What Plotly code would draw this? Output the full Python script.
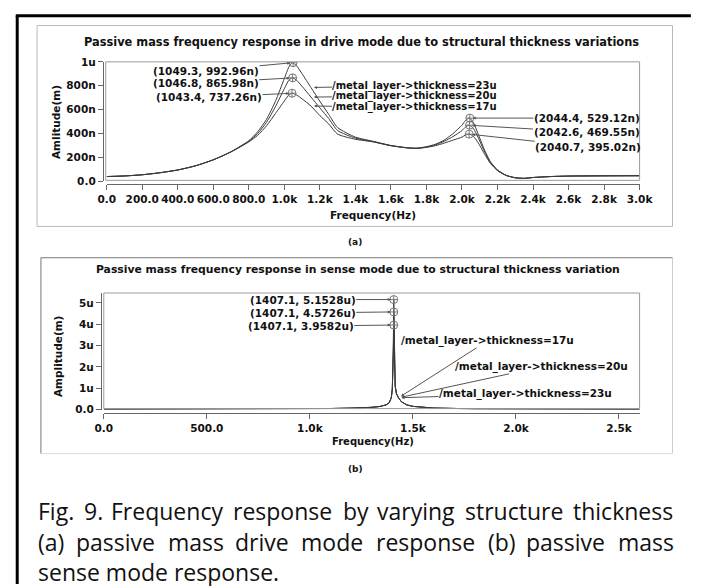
import plotly.graph_objects as go

W, H = 701, 586
def X(p): return p / W
def Y(p): return 1 - p / H

# ---------------- data ----------------
thickness = ["23u", "20u", "17u"]

drive_freq = [0, 100, 200, 300, 400, 500, 600, 700, 800, 850, 900, 950, 1000, 1025, 1045,
              1070, 1100, 1150, 1200, 1250, 1300, 1400, 1500, 1600, 1700, 1750, 1800, 1850,
              1900, 1950, 2000, 2020, 2042, 2065, 2090, 2125, 2160, 2200, 2250, 2300, 2350,
              2400, 2500, 2600, 2800, 3000]
# amplitudes in nm
drive_23 = [40, 45, 55, 72, 95, 130, 180, 248, 340, 415, 520, 670, 860, 955, 993,
            965, 900, 785, 670, 560, 450, 370, 335, 300, 280, 278, 290, 310,
            345, 400, 470, 510, 529, 490, 400, 270, 165, 95, 50, 30, 25,
            32, 40, 44, 46, 47]
drive_20 = [40, 45, 55, 72, 95, 130, 180, 247, 335, 400, 495, 625, 775, 845, 866,
            845, 795, 705, 615, 525, 425, 362, 332, 299, 279, 277, 287, 305,
            335, 375, 425, 455, 470, 440, 370, 255, 158, 92, 49, 30, 25,
            32, 40, 44, 46, 47]
drive_17 = [40, 45, 55, 72, 95, 130, 180, 246, 330, 385, 465, 568, 672, 722, 737,
            722, 690, 630, 550, 480, 395, 352, 330, 298, 278, 276, 284, 298,
            320, 345, 370, 388, 395, 375, 325, 235, 150, 90, 48, 30, 25,
            32, 40, 44, 46, 47]
drive_peak1_f = [1049.3, 1046.8, 1043.4]
drive_peak1_a = [992.96, 865.98, 737.26]
drive_peak2_f = [2044.4, 2042.6, 2040.7]
drive_peak2_a = [529.12, 469.55, 395.02]
drive_xticks = [0, 200, 400, 600, 800, 1000, 1200, 1400, 1600, 1800, 2000, 2200, 2400, 2600, 2800, 3000]
drive_xlabels = ["0.0", "200.0", "400.0", "600.0", "800.0", "1.0k", "1.2k", "1.4k", "1.6k",
                 "1.8k", "2.0k", "2.2k", "2.4k", "2.6k", "2.8k", "3.0k"]
drive_yticks = [0, 200, 400, 600, 800, 1000]
drive_ylabels = ["0.0", "200n", "400n", "600n", "800n", "1u"]

sense_freq = [0, 200, 400, 600, 800, 1000, 1100, 1200, 1250, 1300, 1340, 1370, 1385, 1395,
              1400, 1403, 1405, 1407.1, 1409, 1411, 1414, 1420, 1430, 1445, 1470, 1500,
              1550, 1600, 1800, 2000, 2300, 2600]
# amplitudes in um
sense_23 = [0.012, 0.013, 0.016, 0.020, 0.027, 0.040, 0.050, 0.068, 0.082, 0.105, 0.145, 0.22, 0.32, 0.55,
            0.95, 1.75, 3.0, 5.1528, 3.1, 1.8, 1.1, 0.75, 0.55, 0.36, 0.22, 0.15,
            0.095, 0.07, 0.035, 0.022, 0.013, 0.009]
sense_20 = [0.012, 0.013, 0.016, 0.020, 0.027, 0.040, 0.050, 0.068, 0.082, 0.105, 0.145, 0.22, 0.32, 0.55,
            0.95, 1.65, 2.8, 4.5726, 2.9, 1.75, 1.1, 0.75, 0.55, 0.36, 0.22, 0.15,
            0.095, 0.07, 0.035, 0.022, 0.013, 0.009]
sense_17 = [0.012, 0.013, 0.016, 0.020, 0.027, 0.040, 0.050, 0.068, 0.082, 0.105, 0.145, 0.22, 0.32, 0.55,
            0.95, 1.6, 2.6, 3.9582, 2.7, 1.7, 1.1, 0.75, 0.55, 0.36, 0.22, 0.15,
            0.095, 0.07, 0.035, 0.022, 0.013, 0.009]
sense_peak_f = [1407.1, 1407.1, 1407.1]
sense_peak_a = [5.1528, 4.5726, 3.9582]
sense_xticks = [0, 500, 1000, 1500, 2000, 2500]
sense_xlabels = ["0.0", "500.0", "1.0k", "1.5k", "2.0k", "2.5k"]
sense_yticks = [0, 1, 2, 3, 4, 5]
sense_ylabels = ["0.0", "1u", "2u", "3u", "4u", "5u"]

caption_line1 = ["Fig.", "9.", "Frequency", "response", "by", "varying", "structure", "thickness"]
caption_line2 = ["(a)", "passive", "mass", "drive", "mode", "response", "(b)", "passive", "mass"]
caption_line3 = "sense mode response."

# ---------------- style ----------------
CF = "DejaVu Sans"
def bold(s, c="#111"):
    return dict(family=CF, size=s, color=c, weight="bold")
line_col = "#3a3a3a"
ax_col = "#666666"

fig = go.Figure()

for vals in (drive_23, drive_20, drive_17):
    fig.add_trace(go.Scatter(x=drive_freq, y=vals, mode="lines", xaxis="x", yaxis="y",
                             line=dict(color=line_col, width=1, shape="spline", smoothing=0.6),
                             hoverinfo="skip"))
fig.add_trace(go.Scatter(x=drive_peak1_f + drive_peak2_f, y=drive_peak1_a + drive_peak2_a,
                         mode="markers", xaxis="x", yaxis="y",
                         marker=dict(symbol="circle-cross-open", size=8, color="#777777",
                                     line=dict(width=1)), hoverinfo="skip"))
for vals in (sense_23, sense_20, sense_17):
    fig.add_trace(go.Scatter(x=sense_freq, y=vals, mode="lines", xaxis="x2", yaxis="y2",
                             line=dict(color=line_col, width=1), hoverinfo="skip"))
fig.add_trace(go.Scatter(x=sense_peak_f, y=sense_peak_a, mode="markers", xaxis="x2", yaxis="y2",
                         marker=dict(symbol="circle-cross-open", size=8, color="#777777",
                                     line=dict(width=1)), hoverinfo="skip"))

axcommon = dict(showgrid=False, zeroline=False, showline=True, linecolor=ax_col, linewidth=1,
                ticks="outside", ticklen=5, tickcolor=ax_col, tickwidth=1,
                tickfont=bold(10.5), fixedrange=True)

fig.update_layout(
    width=W, height=H, margin=dict(l=0, r=0, t=0, b=0),
    paper_bgcolor="white", plot_bgcolor="rgba(0,0,0,0)", showlegend=False,
    xaxis=dict(domain=[X(101), X(652)], range=[0, 3000], anchor="free", position=Y(182),
               tickmode="array", tickvals=drive_xticks, ticktext=drive_xlabels, **axcommon),
    yaxis=dict(domain=[Y(179), Y(57)], range=[0, 1000], anchor="free", position=X(97),
               tickmode="array", tickvals=drive_yticks, ticktext=drive_ylabels, **axcommon),
    xaxis2=dict(domain=[X(98), X(652)], range=[0, 2600], anchor="free", position=Y(416),
                tickmode="array", tickvals=sense_xticks, ticktext=sense_xlabels, **axcommon),
    yaxis2=dict(domain=[Y(412), Y(293)], range=[0, 5.46], anchor="free", position=X(95),
                tickmode="array", tickvals=sense_yticks, ticktext=sense_ylabels, **axcommon),
)

shapes = []
def pline(x0, y0, x1, y1, color, w=1):
    shapes.append(dict(type="line", xref="paper", yref="paper", x0=X(x0), y0=Y(y0), x1=X(x1), y1=Y(y1),
                       line=dict(color=color, width=w)))
def prect(x0, y0, x1, y1, color, w=1):
    shapes.append(dict(type="rect", xref="paper", yref="paper", x0=X(x0), y0=Y(y0), x1=X(x1), y1=Y(y1),
                       line=dict(color=color, width=w), fillcolor="rgba(0,0,0,0)"))

# outer black frame (left + top)
pline(8.5, 10, 8.5, 590, "black", 3)
pline(7, 10, 705, 10, "black", 3)
# panel (a) box
prect(29, 20, 686, 225, "#b8b8b8")
# panel (b) box
pline(33, 257, 686, 257, "#777777")
pline(33, 257, 33, 457, "#777777")
pline(686, 257, 686, 457, "#cccccc")
pline(33, 457, 686, 457, "#dddddd")
# plot frames
prect(100, 57, 652, 178, "#9a9a9a")
prect(98, 293, 652, 411, "#9a9a9a")
fig.update_layout(shapes=shapes)

ann = []
def ptext(x, y, text, font, xanchor="center", yanchor="middle", **kw):
    d = dict(x=X(x), y=Y(y), xref="paper", yref="paper", text=text, showarrow=False, font=font,
             xanchor=xanchor, yanchor=yanchor, borderpad=0)
    d.update(kw)
    ann.append(d)

def callout(xr, yr, xv, yv, text, axp, ayp, size=10.5):
    ann.append(dict(x=xv, y=yv, xref=xr, yref=yr, text=text, showarrow=True, ax=axp, ay=ayp,
                    arrowhead=2, arrowsize=0.6, arrowwidth=1, arrowcolor="#555555", standoff=3,
                    font=bold(size), borderpad=0))

# titles & axis titles
ptext(364, 37, "Passive mass frequency response in drive mode due to structural thickness variations", bold(11.4))
ptext(376, 213, "Frequency(Hz)", bold(10.5))
ptext(48, 118, "Amlitude(m)", bold(10.5), textangle=-90)
ptext(358, 241, "(a)", bold(9))
ptext(361, 269, "Passive mass frequency response in sense mode due to structural thickness variation", bold(10.8))
ptext(376, 445, "Frequency(Hz)", bold(10))
ptext(50, 358, "Amplitude(m)", bold(10.5), textangle=-90)
ptext(358, 473, "(b)", bold(9))

# drive peak callouts
p1_off = [(-87, 8), (-87, 5), (-83, 4)]
for f, a, (dx, dy) in zip(drive_peak1_f, drive_peak1_a, p1_off):
    callout("x", "y", f, a, f"({f}, {a}n)", dx, dy)
p2_off = [(117, 0), (117, 7), (119, 13)]
for f, a, (dx, dy) in zip(drive_peak2_f, drive_peak2_a, p2_off):
    callout("x", "y", f, a, f"({f}, {a}n)", dx, dy)
# drive curve labels
i1150 = drive_freq.index(1150)
d_off = [(104, -2), (104, -1), (104, 1)]
for t, vals, (dx, dy) in zip(thickness, (drive_23, drive_20, drive_17), d_off):
    callout("x", "y", drive_freq[i1150], vals[i1150], f"/metal_layer->thickness={t}", dx, dy, 10)

# sense peak callouts
s_off = [(-91, 0), (-91, 1), (-93, 1)]
for f, a, (dx, dy) in zip(sense_peak_f, sense_peak_a, s_off):
    callout("x2", "y2", f, a, f"({f}, {a}u)", dx, dy)
i1430 = sense_freq.index(1430)
s_lab_off = {"17u": (89, -57), "20u": (143, -31), "23u": (127, -4)}
for t in ["17u", "20u", "23u"]:
    dx, dy = s_lab_off[t]
    callout("x2", "y2", sense_freq[i1430], sense_23[i1430], f"/metal_layer->thickness={t}", dx, dy)

# caption (justified lines)
CAP = dict(family="Open Sans", size=23, color="#111")
ptext(6, 2, "ance.", CAP, xanchor="left", yanchor="bottom")
line1_x = [29, 76, 104, 231, 344, 379, 470, 582]
for wx, w in zip(line1_x, caption_line1):
    ptext(wx, 516, w, CAP, xanchor="left")
line2_x = [29, 68, 163, 233, 301, 378, 494, 534, 629]
for wx, w in zip(line2_x, caption_line2):
    ptext(wx, 547, w, CAP, xanchor="left")
ptext(29, 578, caption_line3, CAP, xanchor="left")

fig.update_layout(annotations=ann)
fig.write_html("out.html")
